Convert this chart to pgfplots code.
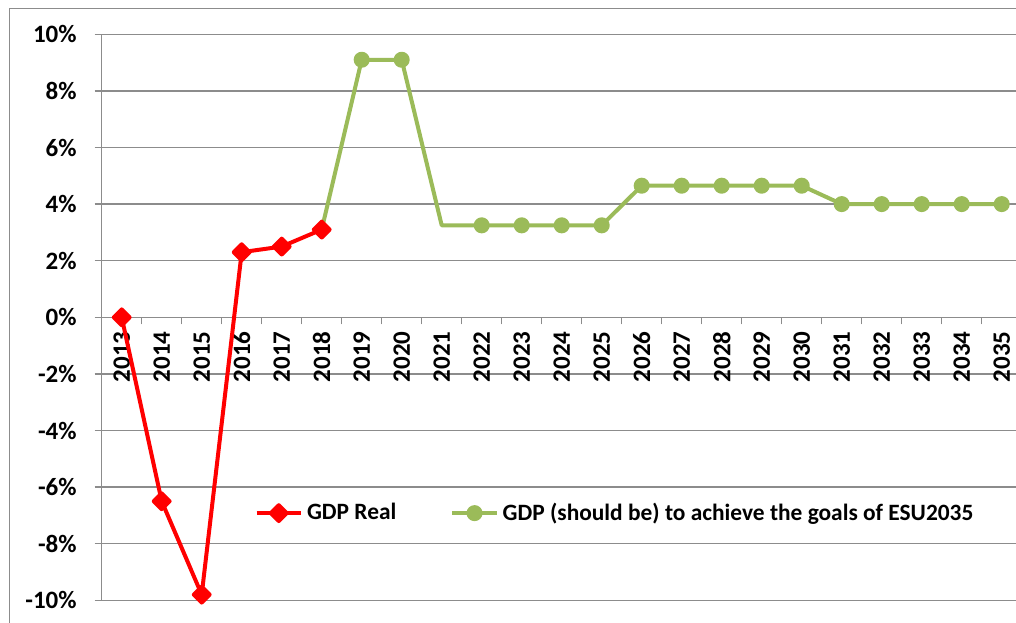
\documentclass[border=0pt]{standalone}
\usepackage{fontspec}
\setmainfont{Carlito}
\usepackage{pgfplots}
\pgfplotsset{compat=1.18}
\definecolor{exred}{HTML}{FF0000}
\definecolor{exgreen}{HTML}{9BBB59}
\definecolor{gridgray}{HTML}{8C8C8C}
\begin{document}
\begin{tikzpicture}
\useasboundingbox (0,0) rectangle (508pt,311pt);
\clip (0,0) rectangle (508pt,311pt);
\draw[gridgray, line width=0.75pt] (4.65pt,-20pt) -- (4.65pt,306.85pt) -- (530pt,306.85pt);
\begin{axis}[
  at={(50.85pt,10.85pt)}, anchor=south west,
  scale only axis, width=460pt, height=283pt,
  xmin=-0.5, xmax=22.5, ymin=-10, ymax=10,
  axis x line=middle, axis y line=left,
  axis line style={-, gridgray, line width=0.75pt},
  hide obscured x ticks=false, hide obscured y ticks=false,
  xtick={0,...,22},
  xticklabels={2013,2014,2015,2016,2017,2018,2019,2020,2021,2022,2023,2024,2025,2026,2027,2028,2029,2030,2031,2032,2033,2034,2035},
  major x tick style={draw=none},
  minor xtick={-0.5,0.5,...,22.5},
  ytick={-10,-8,...,10},
  yticklabels={-10\%,-8\%,-6\%,-4\%,-2\%,0\%,2\%,4\%,6\%,8\%,10\%},
  tick align=outside,
  major tick length=3.5pt, minor tick length=3.5pt,
  tick style={gridgray, line width=0.75pt},
  ymajorgrids, grid style={gridgray, line width=0.75pt},
  tick label style={font=\fontsize{12.5}{15}\selectfont\bfseries},
  xticklabel style={rotate=90, anchor=east},
  yticklabel style={xshift=-5.5pt},
  clip=false,
  legend columns=2,
  legend cell align=left,
  legend style={at={(0.559,0.154)}, anchor=center, draw=none, fill=none,
    font=\fontsize{11.7}{14}\selectfont\bfseries,
    /tikz/every even column/.append style={column sep=25pt}},
  legend image code/.code={\draw[mark repeat=2,mark phase=2,#1,mark indices={2}] plot coordinates {(0cm,0cm) (0.39cm,0cm) (0.78cm,0cm)};},
]
\addplot[exred, line width=2pt, line join=round, mark=square*, mark size=2.8pt, mark options={rotate=45, solid}]
  coordinates {(0,0) (1,-6.5) (2,-9.8) (3,2.3) (4,2.5) (5,3.1)};
\addlegendentry{GDP Real}
\addplot[exgreen, line width=2pt, line join=round, mark=*, mark size=3pt, mark options={solid},
  mark indices={2,3,5,6,7,8,9,10,11,12,13,14,15,16,17,18}]
  coordinates {(5,3.1) (6,9.1) (7,9.1) (8,3.25) (9,3.25) (10,3.25) (11,3.25) (12,3.25) (13,4.65) (14,4.65) (15,4.65) (16,4.65) (17,4.65) (18,4.0) (19,4.0) (20,4.0) (21,4.0) (22,4.0)};
\addlegendentry{GDP (should be) to achieve the goals of ESU2035}
\addplot[forget plot, only marks, exred, mark=square*, mark size=2.8pt, mark options={rotate=45, solid}]
  coordinates {(5,3.1)};
\end{axis}
\end{tikzpicture}
\end{document}
